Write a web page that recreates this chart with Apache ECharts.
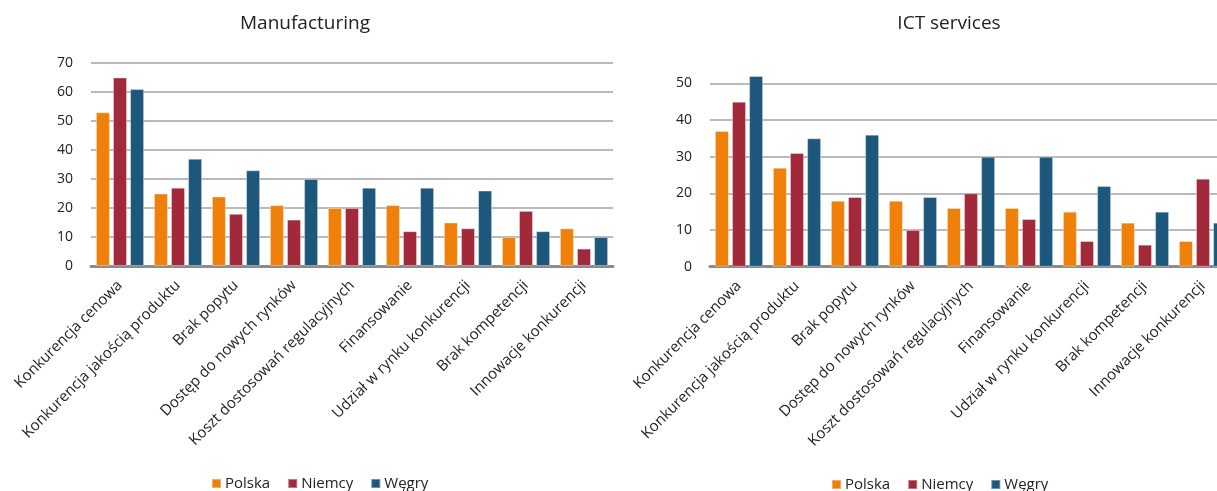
<!DOCTYPE html>
<html>
<head>
<meta charset="utf-8">
<script src="https://cdn.jsdelivr.net/npm/echarts@6/dist/echarts.min.js"></script>
<style>
  html, body { margin: 0; padding: 0; background: #fff; overflow: hidden; }
  /* the ICT panel runs past the right edge of the page */
  #chart { width: 1240px; height: 491px; }
</style>
</head>
<body>
<div id="chart"></div>
<script>
// Barriers to competition, share of firms (%)
const categories = [
  'Konkurencja cenowa',
  'Konkurencja jakością produktu',
  'Brak popytu',
  'Dostęp do nowych rynków',
  'Koszt dostosowań regulacyjnych',
  'Finansowanie',
  'Udział w rynku konkurencji',
  'Brak kompetencji',
  'Innowacje konkurencji'
];
const seriesNames = ['Polska', 'Niemcy', 'Węgry'];

// Manufacturing
const mfgPolska = [53, 25, 24, 21, 20, 21, 15, 10, 13];
const mfgNiemcy = [65, 27, 18, 16, 20, 12, 13, 19, 6];
const mfgWegry  = [61, 37, 33, 30, 27, 27, 26, 12, 10];

// ICT services
const ictPolska = [37, 27, 18, 18, 16, 16, 15, 12, 7];
const ictNiemcy = [45, 31, 19, 10, 20, 13, 7, 6, 24];
const ictWegry  = [52, 35, 36, 19, 30, 30, 22, 15, 12];

const colors = ['#EF810B', '#A12939', '#1D587C'];
const FONT = '"Open Sans", "DejaVu Sans", sans-serif';
const TEXT = '#222222';

function xAxisFor(idx) {
  return {
    type: 'category',
    gridIndex: idx,
    data: categories,
    axisTick: { show: false },
    axisLine: { lineStyle: { color: '#8c8c8c', width: 3 } },
    axisLabel: {
      rotate: 45,
      interval: 0,
      margin: 17,
      fontFamily: FONT,
      fontSize: 15,
      color: TEXT
    }
  };
}

function yAxisFor(idx, max) {
  return {
    type: 'value',
    gridIndex: idx,
    min: 0,
    max: max,
    interval: 10,
    axisLine: { show: false },
    axisTick: { show: false },
    splitLine: { lineStyle: { color: '#a3a3a3', width: 1.5 } },
    axisLabel: { margin: 18, fontFamily: FONT, fontSize: 14, color: TEXT }
  };
}

function barSeries(name, data, idx, color) {
  return {
    name: name,
    type: 'bar',
    xAxisIndex: idx,
    yAxisIndex: idx,
    data: data,
    barWidth: 14,
    barGap: '22%',
    clip: false,
    itemStyle: { color: color, borderColor: 'rgba(255,255,255,0.35)', borderWidth: 1 }
  };
}

function legendAt(left, top) {
  return {
    data: seriesNames,
    left: left,
    top: top,
    itemWidth: 9,
    itemHeight: 9,
    itemGap: 17,
    icon: 'rect',
    textStyle: { fontFamily: FONT, fontSize: 15, color: TEXT, padding: [0, 0, 0, -1] }
  };
}

const chart = echarts.init(document.getElementById('chart'), null, { renderer: 'canvas' });

chart.setOption({
  animation: false,
  color: colors,
  title: [
    { text: 'Manufacturing', left: 300, top: 9, textAlign: 'center',
      textStyle: { fontFamily: FONT, fontSize: 19, fontWeight: 'normal', color: TEXT } },
    { text: 'ICT services', left: 944, top: 9, textAlign: 'center',
      textStyle: { fontFamily: FONT, fontSize: 19, fontWeight: 'normal', color: TEXT } }
  ],
  legend: [legendAt(206, 471), legendAt(826, 472)],
  grid: [
    { left: 91, top: 63, width: 522, height: 203 },
    { left: 710, top: 83.3, width: 522, height: 183.4 }
  ],
  xAxis: [xAxisFor(0), xAxisFor(1)],
  yAxis: [yAxisFor(0, 70), yAxisFor(1, 50)],
  series: [
    barSeries('Polska', mfgPolska, 0, colors[0]),
    barSeries('Niemcy', mfgNiemcy, 0, colors[1]),
    barSeries('Węgry', mfgWegry, 0, colors[2]),
    barSeries('Polska', ictPolska, 1, colors[0]),
    barSeries('Niemcy', ictNiemcy, 1, colors[1]),
    barSeries('Węgry', ictWegry, 1, colors[2])
  ]
});
</script>
</body>
</html>
